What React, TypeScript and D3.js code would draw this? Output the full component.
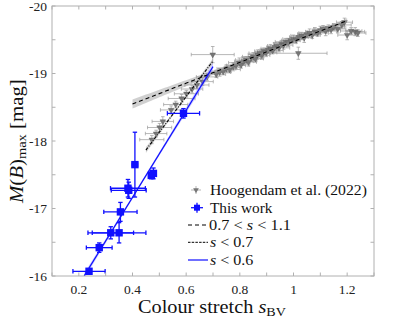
import React, { useLayoutEffect, useRef, useState } from 'react';
import * as d3 from 'd3';

// [s_BV, M(B)max, s error, M error]
const hoogendam: [number, number, number, number][] = [
  [0.472, -18.02, 0.045, 0.06],
  [0.488, -18.11, 0.04, 0.05],
  [0.501, -18.2, 0.045, 0.06],
  [0.513, -18.29, 0.04, 0.07],
  [0.544, -18.46, 0.04, 0.06],
  [0.561, -18.54, 0.045, 0.05],
  [0.583, -18.63, 0.05, 0.06],
  [0.601, -18.7, 0.045, 0.05],
  [0.622, -18.77, 0.04, 0.06],
  [0.64, -18.83, 0.045, 0.05],
  [0.661, -18.88, 0.04, 0.06],
  [0.678, -18.95, 0.04, 0.05],
  [0.699, -19.28, 0.08, 0.12],
  [0.712, -18.99, 0.035, 0.05],
  [0.725, -19.02, 0.04, 0.06],
  [0.738, -19.03, 0.03, 0.05],
  [0.75, -19.07, 0.035, 0.06],
  [0.762, -19.06, 0.04, 0.05],
  [0.775, -19.1, 0.03, 0.06],
  [0.786, -19.12, 0.035, 0.05],
  [0.798, -19.16, 0.04, 0.07],
  [0.805, -19.13, 0.03, 0.05],
  [0.815, -19.18, 0.035, 0.06],
  [0.824, -19.2, 0.04, 0.05],
  [0.832, -19.17, 0.03, 0.06],
  [0.842, -19.23, 0.035, 0.05],
  [0.85, -19.25, 0.04, 0.06],
  [0.858, -19.22, 0.03, 0.05],
  [0.866, -19.28, 0.035, 0.07],
  [0.874, -19.3, 0.04, 0.05],
  [0.882, -19.27, 0.03, 0.06],
  [0.89, -19.33, 0.035, 0.05],
  [0.898, -19.31, 0.04, 0.06],
  [0.906, -19.35, 0.03, 0.05],
  [0.914, -19.37, 0.035, 0.06],
  [0.922, -19.34, 0.04, 0.05],
  [0.93, -19.39, 0.03, 0.07],
  [0.938, -19.41, 0.035, 0.05],
  [0.946, -19.38, 0.04, 0.06],
  [0.955, -19.44, 0.03, 0.05],
  [0.963, -19.42, 0.035, 0.06],
  [0.972, -19.47, 0.04, 0.05],
  [0.98, -19.46, 0.03, 0.06],
  [0.99, -19.49, 0.035, 0.05],
  [1.0, -19.51, 0.04, 0.06],
  [1.01, -19.5, 0.03, 0.05],
  [1.018, -19.3, 0.107, 0.09],
  [1.02, -19.54, 0.035, 0.06],
  [1.03, -19.56, 0.04, 0.05],
  [1.04, -19.53, 0.03, 0.07],
  [1.05, -19.58, 0.035, 0.05],
  [1.06, -19.6, 0.04, 0.06],
  [1.07, -19.57, 0.03, 0.05],
  [1.08, -19.62, 0.035, 0.06],
  [1.09, -19.6, 0.04, 0.05],
  [1.1, -19.64, 0.03, 0.06],
  [1.11, -19.66, 0.035, 0.05],
  [1.12, -19.63, 0.04, 0.07],
  [1.13, -19.67, 0.03, 0.05],
  [1.14, -19.65, 0.035, 0.06],
  [1.15, -19.69, 0.04, 0.05],
  [1.165, -19.66, 0.03, 0.06],
  [1.18, -19.72, 0.035, 0.05],
  [1.19, -19.76, 0.03, 0.06],
  [1.2, -19.57, 0.035, 0.07],
  [1.215, -19.63, 0.04, 0.05],
  [1.23, -19.62, 0.035, 0.06],
  [1.24, -19.6, 0.03, 0.05],
];

// [s_BV, M(B)max, s error, M error]
const thisWork: [number, number, number, number][] = [
  [0.238, -16.07, 0.06, 0.03],
  [0.276, -16.42, 0.048, 0.07],
  [0.319, -16.64, 0.085, 0.09],
  [0.35, -16.64, 0.1, 0.15],
  [0.355, -16.95, 0.062, 0.14],
  [0.383, -17.3, 0.065, 0.13],
  [0.386, -17.27, 0.065, 0.12],
  [0.409, -17.65, 0.01, 0.48],
  [0.47, -17.49, 0.01, 0.05],
  [0.478, -17.52, 0.01, 0.08],
  [0.59, -18.41, 0.06, 0.07],
];

// linear fits M = a + b*s, with confidence half-width sqrt(c0^2 + (c1*(s-s0))^2)
const fits = [
  { key: 'mid', a: -17.93, b: -1.545, sMin: 0.4, sMax: 1.2, c0: 0.015, c1: 0.12, s0: 0.95 },
  { key: 'low', a: -15.49, b: -5.28, sMin: 0.45, sMax: 0.7, c0: 0.02, c1: 0.3, s0: 0.58 },
  { key: 'blue', a: -14.58, b: -6.46, sMin: 0.22, sMax: 0.7, c0: 0.02, c1: 0.2, s0: 0.42 },
];

const xTicks = [0.1, 0.2, 0.3, 0.4, 0.5, 0.6, 0.7, 0.8, 0.9, 1.0, 1.1, 1.2, 1.3];
const xLabels = [0.2, 0.4, 0.6, 0.8, 1.0, 1.2];
const yTicks = [-20, -19.5, -19, -18.5, -18, -17.5, -17, -16.5, -16];
const yLabels = [-20, -19, -18, -17, -16];

const W = 395;
const H = 321;
const left = 52;
const right = 374;
const top = 6;
const bottom = 276;
const serif = '"Liberation Serif", "Times New Roman", "DejaVu Serif", serif';
const BLUE = '#1010ff';

// text stretched horizontally to a given width (the original uses a wider TeX font)
const FitText = ({ x, y, width, fontSize, children }: any) => {
  const ref = useRef<SVGTextElement>(null);
  const [sx, setSx] = useState(1);
  useLayoutEffect(() => {
    if (ref.current) {
      const w = ref.current.getBBox().width;
      if (w > 0) setSx(width / w);
    }
  }, [width]);
  return (
    <text
      ref={ref}
      x={x}
      y={y}
      fontSize={fontSize}
      fill="#111"
      transform={`translate(${x} 0) scale(${sx} 1) translate(${-x} 0)`}
    >
      {children}
    </text>
  );
};

const App = () => {
  const x = d3.scaleLinear().domain([0.1, 1.3]).range([left, right]);
  const y = d3.scaleLinear().domain([-20, -16]).range([top, bottom]);

  const fitStyle: Record<string, { stroke: string; dash?: string; band: string; width: number }> = {
    mid: { stroke: '#000', dash: '4,3', band: 'rgba(150,150,150,0.45)', width: 1.1 },
    low: { stroke: '#000', dash: '3,1.5,1,1.5', band: 'rgba(150,150,150,0.4)', width: 1.1 },
    blue: { stroke: BLUE, band: 'rgba(120,120,255,0.35)', width: 1.2 },
  };

  const fitPaths = fits.map((f) => {
    const ss = d3.range(f.sMin, f.sMax + 0.001, 0.01);
    const hw = (s: number) => Math.sqrt(f.c0 ** 2 + (f.c1 * (s - f.s0)) ** 2);
    const area = d3
      .area<number>()
      .x((s) => x(s))
      .y0((s) => y(f.a + f.b * s - hw(s)))
      .y1((s) => y(f.a + f.b * s + hw(s)));
    const line = d3
      .line<number>()
      .x((s) => x(s))
      .y((s) => y(f.a + f.b * s));
    return { key: f.key, band: area(ss), line: line([f.sMin, f.sMax]) };
  });

  const tri = d3.symbol().type(d3.symbolTriangle).size(14)();
  const cap = 1.8;

  const legendRows = [190, 207.7, 225, 242.3, 260];
  const lx0 = 188;
  const lx1 = 208;
  const tx = 210;
  const lfs = 15;

  return (
    <svg
      width={W}
      height={H}
      style={{ position: 'absolute', left: 0, top: 0, background: '#fff', fontFamily: serif }}
    >
      <rect x={0} y={0} width={W} height={H} fill="#fff" />
      <defs>
        <clipPath id="plotclip">
          <rect x={left} y={top} width={right - left} height={bottom - top} />
        </clipPath>
      </defs>

      <g clipPath="url(#plotclip)">
        {/* Hoogendam et al. (2022) */}
        {hoogendam.map(([s, m, se, me], i) => (
          <g key={`h${i}`} stroke="#9a9a9a" strokeWidth={0.7}>
            <line x1={x(s - se)} x2={x(s + se)} y1={y(m)} y2={y(m)} />
            <line x1={x(s - se)} x2={x(s - se)} y1={y(m) - cap} y2={y(m) + cap} />
            <line x1={x(s + se)} x2={x(s + se)} y1={y(m) - cap} y2={y(m) + cap} />
            <line x1={x(s)} x2={x(s)} y1={y(m - me)} y2={y(m + me)} />
            <line x1={x(s) - cap} x2={x(s) + cap} y1={y(m - me)} y2={y(m - me)} />
            <line x1={x(s) - cap} x2={x(s) + cap} y1={y(m + me)} y2={y(m + me)} />
          </g>
        ))}
        {hoogendam.map(([s, m], i) => (
          <path
            key={`ht${i}`}
            d={tri || ''}
            transform={`translate(${x(s)},${y(m)}) rotate(180)`}
            fill="#777"
            stroke="#555"
            strokeWidth={0.4}
          />
        ))}

        {fitPaths.map((p) => (
          <path key={`b${p.key}`} d={p.band || ''} fill={fitStyle[p.key].band} stroke="none" />
        ))}
        {fitPaths.map((p) => (
          <path
            key={`l${p.key}`}
            d={p.line || ''}
            fill="none"
            stroke={fitStyle[p.key].stroke}
            strokeWidth={fitStyle[p.key].width}
            strokeDasharray={fitStyle[p.key].dash}
          />
        ))}

        {/* This work */}
        {thisWork.map(([s, m, se, me], i) => (
          <g key={`t${i}`} stroke={BLUE} strokeWidth={1.3}>
            <line x1={x(s - se)} x2={x(s + se)} y1={y(m)} y2={y(m)} />
            <line x1={x(s - se)} x2={x(s - se)} y1={y(m) - 2.2} y2={y(m) + 2.2} />
            <line x1={x(s + se)} x2={x(s + se)} y1={y(m) - 2.2} y2={y(m) + 2.2} />
            <line x1={x(s)} x2={x(s)} y1={y(m - me)} y2={y(m + me)} />
            <line x1={x(s) - 2.2} x2={x(s) + 2.2} y1={y(m - me)} y2={y(m - me)} />
            <line x1={x(s) - 2.2} x2={x(s) + 2.2} y1={y(m + me)} y2={y(m + me)} />
          </g>
        ))}
        {thisWork.map(([s, m], i) => (
          <rect key={`ts${i}`} x={x(s) - 3.7} y={y(m) - 3.7} width={7.4} height={7.4} fill={BLUE} />
        ))}
      </g>

      {/* axes box and ticks */}
      <rect x={left} y={top} width={right - left} height={bottom - top} fill="none" stroke="#b0b0b0" strokeWidth={1} />
      {xTicks.map((t) => (
        <g key={`xt${t}`} stroke="#b0b0b0">
          <line x1={x(t)} x2={x(t)} y1={bottom} y2={bottom - 3.5} />
          <line x1={x(t)} x2={x(t)} y1={top} y2={top + 3.5} />
        </g>
      ))}
      {yTicks.map((t) => (
        <g key={`yt${t}`} stroke="#b0b0b0">
          <line x1={left} x2={left + 3.5} y1={y(t)} y2={y(t)} />
          <line x1={right} x2={right - 3.5} y1={y(t)} y2={y(t)} />
        </g>
      ))}
      {xLabels.map((t) => (
        <text key={`xl${t}`} x={x(t)} y={294} fontSize={13.5} textAnchor="middle" fill="#222">
          {d3.format('~g')(t)}
        </text>
      ))}
      {yLabels.map((t) => (
        <text key={`yl${t}`} x={47} y={y(t) + 4.5} fontSize={13.5} textAnchor="end" fill="#222">
          {String(t)}
        </text>
      ))}

      {/* axis titles */}
      <FitText x={138} y={313} width={148} fontSize={18}>
        Colour stretch <tspan fontStyle="italic">s</tspan>
        <tspan fontSize={12.5} dy={3}>BV</tspan>
      </FitText>
      <g transform="translate(23,203) rotate(-90)">
        <FitText x={0} y={0} width={125} fontSize={18}>
          <tspan fontStyle="italic">M</tspan>(<tspan fontStyle="italic">B</tspan>)
          <tspan fontSize={12.5} dy={3}>max</tspan>
          <tspan dy={-3}> [mag]</tspan>
        </FitText>
      </g>

      {/* legend */}
      <g>
        <g stroke="#9a9a9a" strokeWidth={0.7}>
          <line x1={191} x2={201} y1={legendRows[0]} y2={legendRows[0]} />
          <line x1={196} x2={196} y1={legendRows[0] - 4} y2={legendRows[0] + 4} />
        </g>
        <path d={tri || ''} transform={`translate(196,${legendRows[0]}) rotate(180)`} fill="#777" />
        <FitText x={tx} y={legendRows[0] + 5} width={157} fontSize={lfs}>
          Hoogendam et al. (2022)
        </FitText>

        <g stroke={BLUE} strokeWidth={1.3}>
          <line x1={191} x2={203} y1={legendRows[1]} y2={legendRows[1]} />
          <line x1={197} x2={197} y1={legendRows[1] - 5} y2={legendRows[1] + 5} />
        </g>
        <rect x={194} y={legendRows[1] - 3} width={6} height={6} fill={BLUE} />
        <FitText x={tx} y={legendRows[1] + 5} width={63} fontSize={lfs}>
          This work
        </FitText>

        <line x1={lx0} x2={lx1} y1={legendRows[2]} y2={legendRows[2]} stroke="#000" strokeDasharray="4,3" />
        <FitText x={tx - 1} y={legendRows[2] + 5} width={82} fontSize={lfs}>
          0.7 &lt; <tspan fontStyle="italic">s</tspan> &lt; 1.1
        </FitText>

        <line x1={lx0} x2={lx1} y1={legendRows[3]} y2={legendRows[3]} stroke="#000" strokeDasharray="2.5,1.2" />
        <FitText x={tx} y={legendRows[3] + 5} width={44} fontSize={lfs}>
          <tspan fontStyle="italic">s</tspan> &lt; 0.7
        </FitText>

        <line x1={lx0} x2={lx1} y1={legendRows[4]} y2={legendRows[4]} stroke={BLUE} strokeWidth={1.2} />
        <FitText x={tx} y={legendRows[4] + 5} width={44} fontSize={lfs}>
          <tspan fontStyle="italic">s</tspan> &lt; 0.6
        </FitText>
      </g>
    </svg>
  );
};

export default App;
